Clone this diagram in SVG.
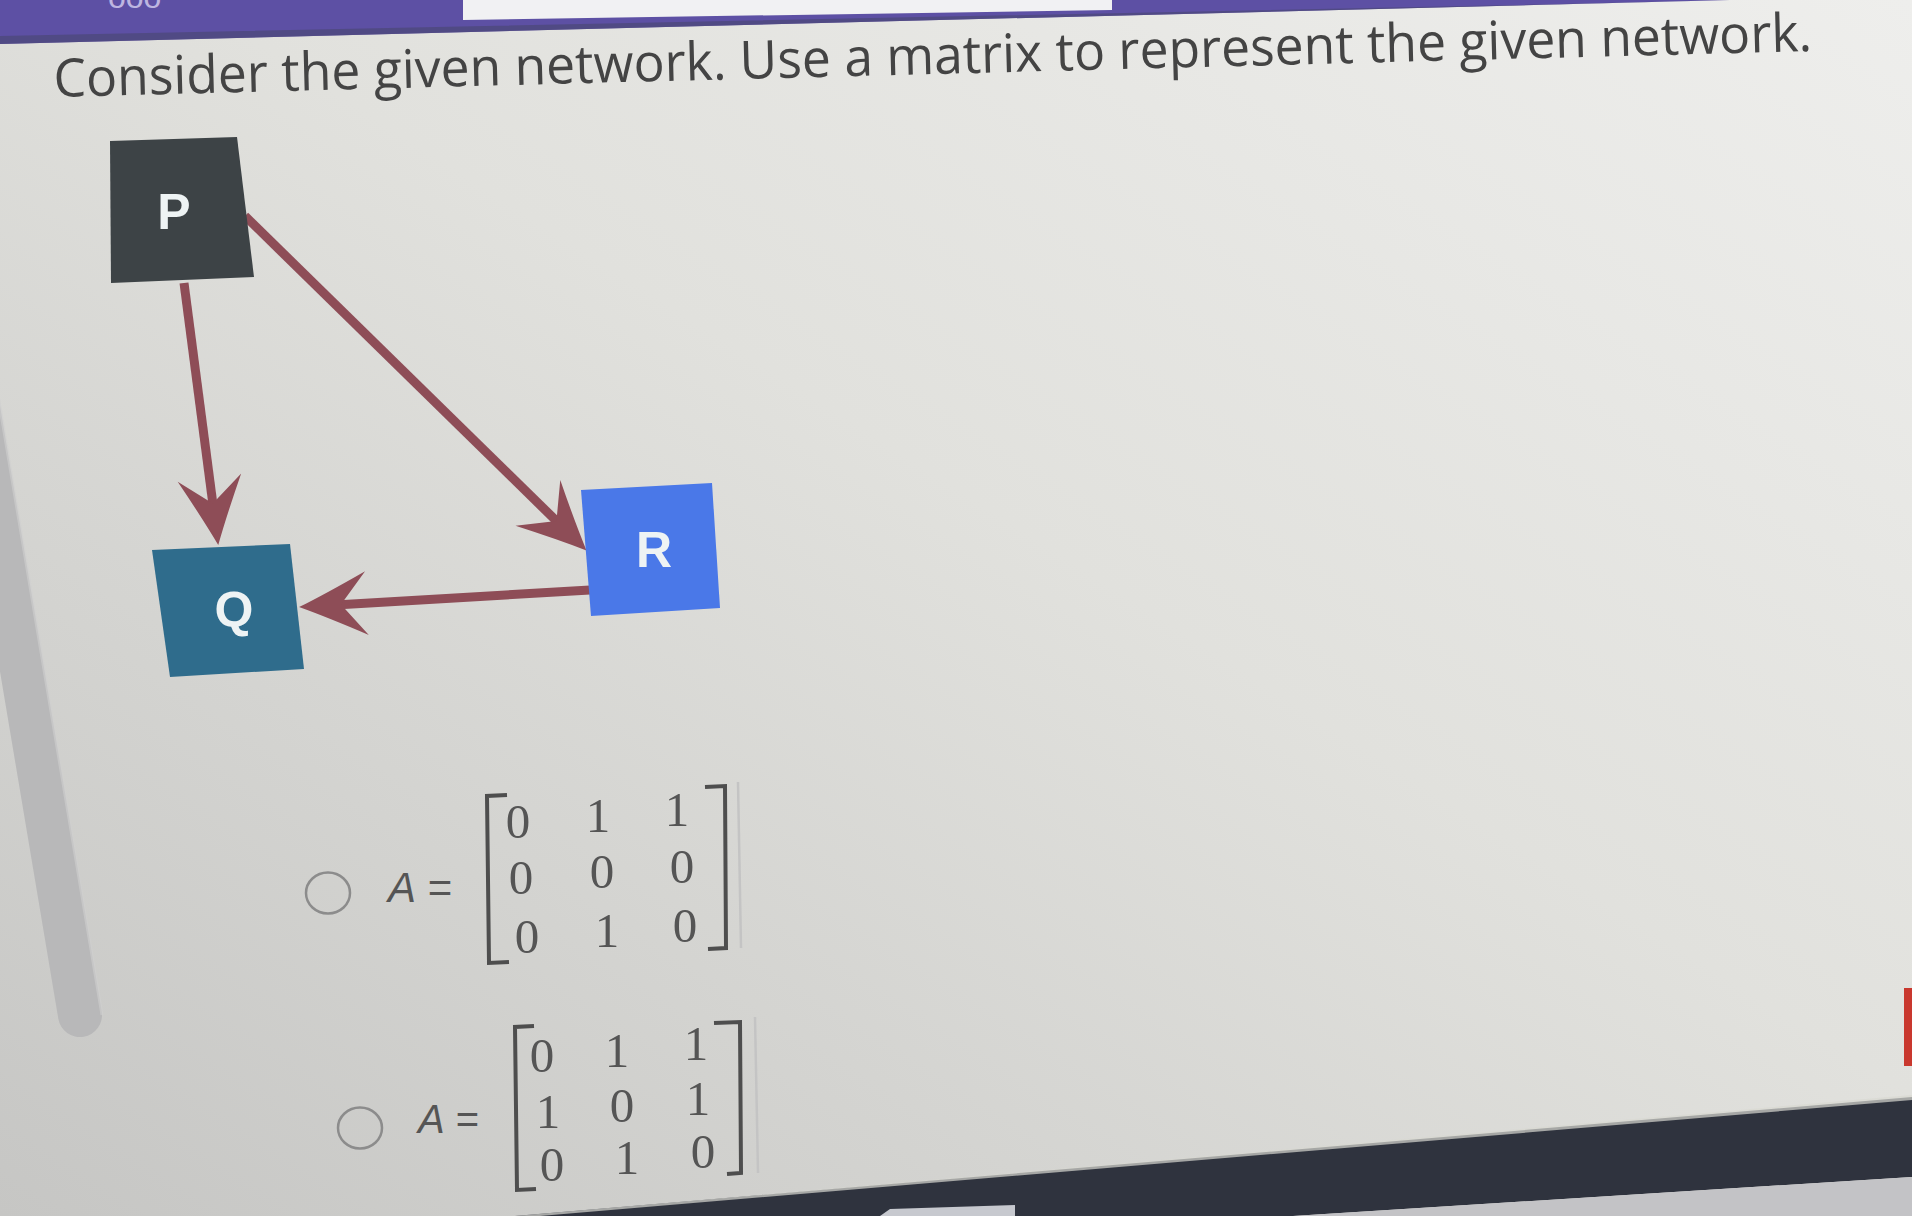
<svg xmlns="http://www.w3.org/2000/svg" width="1912" height="1216" viewBox="0 0 1912 1216">
  <defs>
    <linearGradient id="bg" x1="1" y1="0" x2="0" y2="1">
      <stop offset="0" stop-color="#eeeeec"/>
      <stop offset="0.45" stop-color="#e1e1dd"/>
      <stop offset="1" stop-color="#c6c6c4"/>
    </linearGradient>
    <marker id="arrow" markerUnits="userSpaceOnUse" markerWidth="90" markerHeight="90" viewBox="-45 -45 90 90" refX="0" refY="0" orient="auto" overflow="visible">
      <path d="M32,0 Q4,-12 -36,-32 L-10,0 L-36,32 Q4,12 32,0 Z" fill="#8e4d57"/>
    </marker>
    <style>
      .edge { stroke: #8e4d57; stroke-width: 9; fill: none; stroke-linecap: butt; marker-end: url(#arrow); }
      .lbl { font-family: "Liberation Sans", Arial, sans-serif; font-weight: bold; font-size: 50px; fill: #eef3f4; text-anchor: middle; }
      .dig { font-family: "Liberation Serif", "Times New Roman", serif; font-size: 49px; fill: #555555; text-anchor: middle; }
      .eq { font-family: "Liberation Sans", Arial, sans-serif; fill: #555555; }
      .br { stroke: #4e4e4e; stroke-width: 4; fill: none; stroke-linejoin: miter; }
      .radio { fill: none; stroke: #8c8c8c; stroke-width: 2.5; }
      .faint { stroke: #c4c4c4; stroke-width: 2.5; }
    </style>
  </defs>

  <!-- background -->
  <rect x="0" y="0" width="1912" height="1216" fill="url(#bg)"/>

  <!-- top header bar -->
  <polygon points="0,0 1730,0 0,44" fill="#5d50a4"/>
  <polygon points="0,36 1560,4 1730,0 0,44" fill="#4b4776" opacity="0.7"/>
  <polygon points="463,0 1112,0 1112,10 463,20" fill="#f1f1f3"/>
  <text x="108" y="8" font-family="Liberation Sans, Arial, sans-serif" font-size="32" fill="#bdb6e0">ooo</text>

  <!-- left slanted bar -->
  <line x1="-30" y1="360" x2="80" y2="1015" stroke="#b8b8b9" stroke-width="44" stroke-linecap="round"/>
  <line x1="-8" y1="360" x2="102" y2="1015" stroke="#d0d0d0" stroke-width="3" opacity="0.6"/>

  <!-- bottom dark band -->
  <polygon points="515,1216 1912,1097 1912,1177 1293,1216" fill="#2f333e"/>
  <polygon points="515,1216 1912,1095 1912,1100 540,1216" fill="#d8d8d2" opacity="0.7"/>
  <polygon points="880,1216 890,1209 1015,1205 1015,1216" fill="#c7c9cf"/>
  <polygon points="1293,1216 1912,1177 1912,1216" fill="#c3c3c6"/>

  <!-- red tab at right edge -->
  <rect x="1904" y="988" width="8" height="78" fill="#c9382e"/>

  <!-- title -->
  <text x="54" y="97" transform="rotate(-1.5 54 97)" font-family="'Open Sans', 'Noto Sans', 'Liberation Sans', sans-serif" font-size="53" fill="#444444" textLength="1759" lengthAdjust="spacingAndGlyphs">Consider the given network. Use a matrix to represent the given network.</text>

  <!-- connectors -->
  <g id="connectors">
    <line class="edge" x1="184" y1="283" x2="214.1" y2="513.3"/>
    <line class="edge" x1="245" y1="216" x2="563.6" y2="528"/>
    <line class="edge" x1="590" y1="590" x2="331" y2="605.2"/>
  </g>

  <!-- nodes -->
  <g id="node-P">
    <polygon points="110,141 237,137 254,277 111,283" fill="#3d4346"/>
    <text class="lbl" x="174" y="229">P</text>
  </g>
  <g id="node-Q">
    <polygon points="152,550 290,544 304,669 170,677" fill="#2f6c8c"/>
    <text class="lbl" x="234" y="627">Q</text>
  </g>
  <g id="node-R">
    <polygon points="581,490 712,483 720,608 591,616" fill="#4a78e8"/>
    <text class="lbl" x="654" y="567">R</text>
  </g>

  <!-- option 1 -->
  <g id="option-1">
    <ellipse class="radio" cx="328" cy="893" rx="22" ry="20.5"/>
    <text class="eq" x="388" y="902" font-size="42"><tspan font-style="italic">A</tspan> =</text>
    <polyline class="br" points="507,795 487,796 489,963 509,962"/>
    <polyline class="br" points="705,787 725,786 726,948 708,949"/>
    <line class="faint" x1="738" y1="782" x2="741" y2="948"/>
    <text class="dig" x="518" y="838">0</text>
    <text class="dig" x="598" y="832">1</text>
    <text class="dig" x="677" y="826">1</text>
    <text class="dig" x="521" y="894">0</text>
    <text class="dig" x="602" y="888">0</text>
    <text class="dig" x="682" y="883">0</text>
    <text class="dig" x="527" y="953">0</text>
    <text class="dig" x="607" y="947">1</text>
    <text class="dig" x="685" y="942">0</text>
  </g>

  <!-- option 2 -->
  <g id="option-2">
    <ellipse class="radio" cx="360" cy="1128" rx="22" ry="20.5"/>
    <text class="eq" x="418" y="1133" font-size="40"><tspan font-style="italic">A</tspan> =</text>
    <polyline class="br" points="534,1026 515,1027 517,1190 536,1189"/>
    <polyline class="br" points="714,1023 740,1022 741,1173 727,1174"/>
    <line class="faint" x1="755" y1="1017" x2="758" y2="1173"/>
    <text class="dig" x="542" y="1072">0</text>
    <text class="dig" x="617" y="1067">1</text>
    <text class="dig" x="696" y="1060">1</text>
    <text class="dig" x="548" y="1128">1</text>
    <text class="dig" x="622" y="1122">0</text>
    <text class="dig" x="698" y="1115">1</text>
    <text class="dig" x="552" y="1181">0</text>
    <text class="dig" x="627" y="1174">1</text>
    <text class="dig" x="703" y="1168">0</text>
  </g>
</svg>
